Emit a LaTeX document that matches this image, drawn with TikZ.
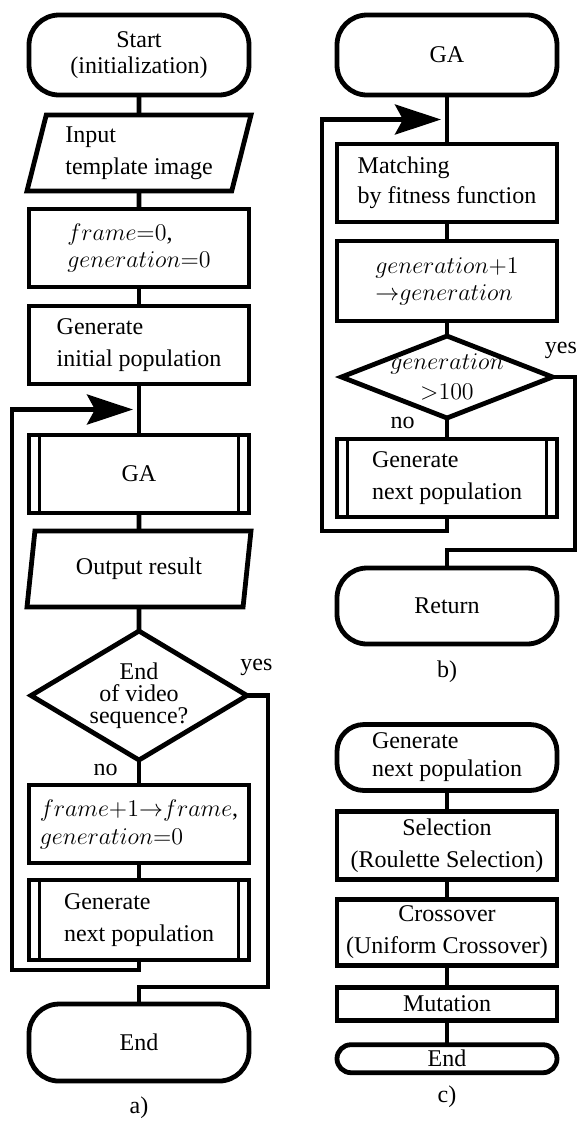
\documentclass[tikz,border=0pt]{standalone}
\usepackage{fontspec}
\setmainfont{Liberation Serif}
\usetikzlibrary{positioning, arrows.meta, shapes.geometric, calc}

\begin{document}
\begin{tikzpicture}[
    font=\fontsize{12}{16}\selectfont,
    line width=2.4pt,
    >={Stealth[length=23pt,width=15pt,inset=4pt]},
    base/.style={draw, line width=2.4pt, inner sep=0pt, outer sep=0pt, minimum width=110pt, minimum height=39pt, align=left},
    proc/.style={base, rectangle},
    term/.style={base, rounded corners=15pt},
    io/.style={base, trapezium, trapezium left angle=70, trapezium right angle=110, trapezium stretches body, minimum width=112pt, minimum height=38pt},
    subproc/.style={proc, path picture={
        \draw[line width=1.8pt] ([xshift=5.25pt]path picture bounding box.south west) -- ([xshift=5.25pt]path picture bounding box.north west);
        \draw[line width=1.8pt] ([xshift=-5.25pt]path picture bounding box.south east) -- ([xshift=-5.25pt]path picture bounding box.north east);}},
    decision/.style={base, diamond},
    flow/.style={line width=2.4pt},
    arrow/.style={flow, ->, shorten >=3pt},
    lbl/.style={inner sep=0pt},
]
\useasboundingbox (0,0) rectangle (289pt,-560.5pt);

% ------------------------------------------------------------ a) main ---
\node[term, align=center, minimum height=40pt, font=\fontsize{12}{13}\selectfont] (start) at (69.5pt,-27.5pt) {Start\\(initialization)};
\node[io, below=10pt of start] (input) {Input\\template image};
\node[proc, below=9pt of input, font=\fontsize{12}{13.5}\selectfont] (frame0) {$frame{=}0$,\\$generation{=}0$};
\node[proc, below=9.5pt of frame0] (initpop) {Generate\\initial population};
\node[subproc, below=25.5pt of initpop, align=center] (ga) {GA};
\node[io, below=9pt of ga, align=center] (outres) {Output result};
\node[decision, below=12pt of outres, minimum width=108pt, minimum height=64.5pt] (endvid) {};
\node[align=center, font=\fontsize{12}{11}\selectfont] (endvidtxt) at (endvid) {End\\of video\\sequence?};
\node[proc, below=12.5pt of endvid, font=\fontsize{12}{14}\selectfont] (nextfr) {$frame{+}1{\rightarrow}frame$,\\$generation{=}0$};
\node[subproc, below=8.5pt of nextfr, minimum height=40pt] (nextpop) {Generate\\next population};
\node[term, below=22pt of nextpop, align=center, minimum height=38.5pt] (finish) {End};
\node (capa) at (69.5pt,-554pt) {a)};

\draw[flow] (start) -- (input);
\draw[flow] (input) -- (frame0);
\draw[flow] (frame0) -- (initpop);
\draw[flow] (initpop) -- (ga);
\draw[flow] (ga) -- (outres);
\draw[flow] (outres) -- (endvid);
\draw[flow] (endvid) -- (nextfr);
\draw[flow] (nextfr) -- (nextpop);

% loop back to GA
\coordinate (joina) at ($(initpop.south)!0.5!(ga.north)$);
\coordinate (loopa) at ($(joina)+(-63.5pt,0)$);
\draw[arrow] (nextpop.south) -- ++(0,-5pt) -| (loopa) -- (joina);

% yes branch
\coordinate (yesa) at ($(finish.north)+(64.5pt,8.5pt)$);
\draw[flow] (endvid.east) -| (yesa) -| (finish.north);
\node[lbl, anchor=base west] (yeslbla) at ($(endvid.east)+(-4.5pt,12.5pt)$) {yes};
\node[lbl, anchor=base east] (nolbla) at ($(endvid.south)+(-9.5pt,-7.5pt)$) {no};

% ------------------------------------------------------------- b) GA ---
\node[term, align=center, minimum height=40pt] (gastart) at (223.5pt,-27.5pt) {GA};
\node[proc, below=24.5pt of gastart, font=\fontsize{12}{15}\selectfont] (match) {Matching\\by fitness function};
\node[proc, below=9.5pt of match, minimum height=40pt, font=\fontsize{12}{13.5}\selectfont] (genplus) {$generation{+}1$\\${\rightarrow}generation$};
\node[decision, below=7.5pt of genplus, minimum width=105.5pt, minimum height=41pt] (check) {};
\node[align=center, font=\fontsize{12}{15}\selectfont] (checktxt) at (check) {$generation$\\${>}100$};
\node[subproc, below=10.5pt of check] (nextb) {Generate\\next population};
\node[term, below=25.5pt of nextb, align=center, minimum height=38pt] (ret) {Return};
\node (capb) at (223.5pt,-336pt) {b)};

\draw[flow] (gastart) -- (match);
\draw[flow] (match) -- (genplus);
\draw[flow] (genplus) -- (check);
\draw[flow] (check) -- (nextb);

% loop back to matching
\coordinate (joinb) at ($(gastart.south)!0.5!(match.north)$);
\coordinate (loopb) at ($(joinb)+(-62.5pt,0)$);
\draw[arrow] (nextb.south) -- ++(0,-7pt) -| (loopb) -- (joinb);

% yes branch
\coordinate (yesb) at ($(ret.north)+(64pt,9pt)$);
\draw[flow] (check.east) -| (yesb) -| (ret.north);
\node[lbl, anchor=base west] (yeslblb) at ($(check.east)+(-5pt,12pt)$) {yes};
\node[lbl, anchor=base east] (nolblb) at ($(check.south)+(-15pt,-5pt)$) {no};

% ----------------------------------------------- c) next population ---
\node[term, rounded corners=13.5pt, minimum height=33pt, font=\fontsize{12}{14}\selectfont] (genterm) at (223.5pt,-378.75pt) {Generate\\next population};
\node[proc, below=10.5pt of genterm, align=center, minimum height=34pt] (sel) {Selection\\(Roulette Selection)};
\node[proc, below=10pt of sel, align=center, minimum height=33pt] (cross) {Crossover\\(Uniform Crossover)};
\node[proc, below=11pt of cross, align=center, minimum height=16.6pt] (mut) {Mutation};
\node[term, rounded corners=7pt, below=12pt of mut, align=center, minimum height=14pt] (stop) {End};
\node (capc) at (223.5pt,-548.5pt) {c)};

\draw[flow] (genterm) -- (sel);
\draw[flow] (sel) -- (cross);
\draw[flow] (cross) -- (mut);
\draw[flow] (mut) -- (stop);

\end{tikzpicture}
\end{document}
